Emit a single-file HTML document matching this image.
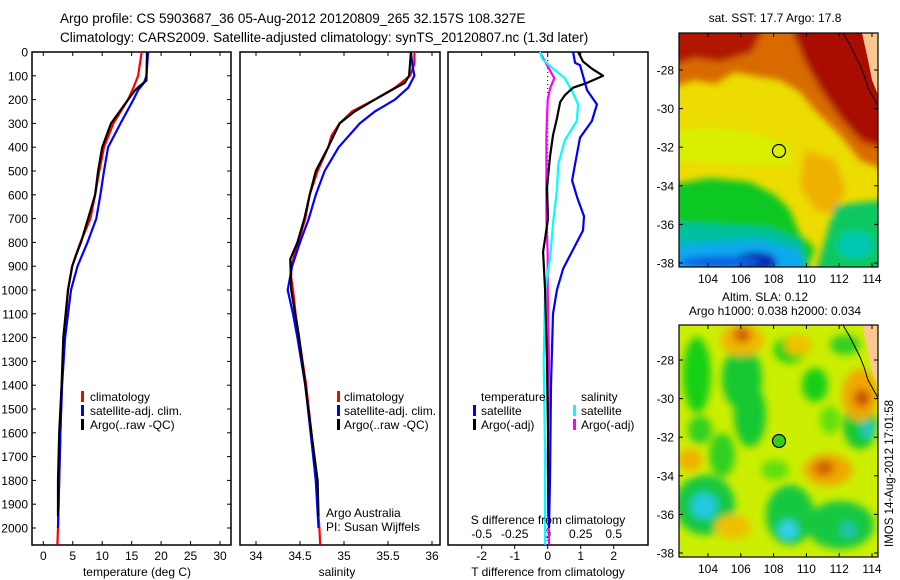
<!DOCTYPE html>
<html><head><meta charset="utf-8"><style>
body{margin:0;background:#fff;}
svg{display:block;font-family:"Liberation Sans",sans-serif;}
</style></head><body>
<svg id="fig" width="900" height="580" viewBox="0 0 900 580">
<defs>
<filter id="blur" x="-20%" y="-20%" width="140%" height="140%"><feGaussianBlur stdDeviation="3.5"/></filter>
<filter id="blur2" x="-50%" y="-50%" width="200%" height="200%"><feGaussianBlur stdDeviation="4"/></filter>
<clipPath id="c1"><rect x="679" y="33" width="199" height="234"/></clipPath>
<clipPath id="c2"><rect x="679" y="325" width="199" height="232"/></clipPath>
</defs>
<g font-size="13.5" fill="#000">
<text x="60" y="23">Argo profile: CS 5903687_36 05-Aug-2012 20120809_265 32.157S 108.327E</text>
<text x="60" y="42">Climatology: CARS2009. Satellite-adjusted climatology: synTS_20120807.nc (1.3d later)</text>
</g>
<g id="frames" fill="none" stroke="#000" stroke-width="1.5">
<rect x="32" y="52" width="199" height="493"/>
<rect x="240" y="52" width="200" height="493"/>
<rect x="448" y="52" width="200" height="493"/>
</g>
<g id="axes" font-size="12"></g>
<g id="series"></g>
<g font-size="12">
<rect x="81" y="391" width="3" height="11" fill="#f00"/>
<text x="90" y="401">climatology</text>
<rect x="81" y="405" width="3" height="11" fill="#00f"/>
<text x="90" y="415">satellite-adj. clim.</text>
<rect x="81" y="419" width="3" height="11" fill="#000"/>
<text x="90" y="429">Argo(..raw -QC)</text>
<rect x="337" y="391" width="3" height="11" fill="#f00"/>
<text x="344" y="401">climatology</text>
<rect x="337" y="405" width="3" height="11" fill="#00f"/>
<text x="344" y="415">satellite-adj. clim.</text>
<rect x="337" y="419" width="3" height="11" fill="#000"/>
<text x="344" y="429">Argo(..raw -QC)</text>
<text x="481" y="401">temperature</text>
<rect x="473" y="405" width="3" height="11" fill="#00f"/>
<text x="481" y="415">satellite</text>
<rect x="473" y="419" width="3" height="11" fill="#000"/>
<text x="481" y="429">Argo(-adj)</text>
<text x="581" y="401">salinity</text>
<rect x="573" y="405" width="3" height="11" fill="#0ff"/>
<text x="581" y="415">satellite</text>
<rect x="573" y="419" width="3" height="11" fill="#f0f"/>
<text x="581" y="429">Argo(-adj)</text>
<text x="326" y="517">Argo Australia</text>
<text x="326" y="531">PI: Susan Wijffels</text>
<text x="548" y="524" text-anchor="middle">S difference from climatology</text>
<text x="137" y="576" text-anchor="middle">temperature (deg C)</text>
<text x="337" y="576" text-anchor="middle">salinity</text>
<text x="548" y="576" text-anchor="middle">T difference from climatology</text>
</g>

<!-- SST map -->
<g clip-path="url(#c1)">
<rect x="679" y="33" width="199" height="234" fill="#ecdc00"/>
<g filter="url(#blur)">
<polygon points="670,25 885,25 885,170 860,160 840,135 815,110 800,92 780,80 755,76 735,72 715,84 695,80 670,88" fill="#d86a00"/>
<polygon points="670,25 765,25 752,52 720,62 695,58 670,66" fill="#b01400"/>
<polygon points="790,25 885,25 885,148 862,142 842,120 822,92 805,62" fill="#a80a00"/>
<polygon points="670,130 720,128 760,135 790,145 790,165 740,165 670,160" fill="#d8f000"/>
<polygon points="805,150 835,160 845,190 835,215 815,210 800,185" fill="#f0b000"/>
<polygon points="670,185 710,178 750,182 775,195 790,210 800,235 815,248 805,275 670,275" fill="#10c820"/>
<polygon points="835,205 885,200 885,275 815,275 825,240" fill="#10c860"/>
<polygon points="670,222 720,225 770,228 800,240 810,275 670,275" fill="#00c0a0"/>
<polygon points="670,245 760,240 800,250 805,275 670,275" fill="#10a8f0"/>
<ellipse cx="755" cy="262" rx="22" ry="10" fill="#0828b0"/>
<ellipse cx="720" cy="262" rx="40" ry="6" fill="#1060e0"/>
<ellipse cx="855" cy="245" rx="18" ry="14" fill="#00c8b0"/>
</g>
<polygon points="862,33 878,33 878,95 872,80 868,60" fill="#f8c890"/>
<polyline points="843,33 850,45 855,55 860,65 864,75 868,88 873,97 878,106" fill="none" stroke="#000" stroke-width="1"/>
<circle cx="779" cy="151" r="6.5" fill="none" stroke="#000" stroke-width="1.2"/>
</g>
<rect x="679" y="33" width="199" height="234" fill="none" stroke="#000" stroke-width="1.2"/>

<!-- SLA map -->
<g clip-path="url(#c2)">
<rect x="679" y="325" width="199" height="232" fill="#ccee00"/>
<g filter="url(#blur2)">
<ellipse cx="697" cy="375" rx="14" ry="38" fill="#18d018"/>
<ellipse cx="742" cy="378" rx="20" ry="32" fill="#18c830"/>
<ellipse cx="790" cy="350" rx="16" ry="13" fill="#18d018"/>
<ellipse cx="815" cy="385" rx="13" ry="17" fill="#18d018"/>
<ellipse cx="750" cy="415" rx="16" ry="32" fill="#18c830"/>
<ellipse cx="860" cy="425" rx="17" ry="24" fill="#18c830"/>
<ellipse cx="705" cy="505" rx="30" ry="30" fill="#18c840"/>
<ellipse cx="790" cy="515" rx="24" ry="30" fill="#18c840"/>
<ellipse cx="840" cy="525" rx="34" ry="24" fill="#18c840"/>
<ellipse cx="722" cy="455" rx="13" ry="22" fill="#30d020"/>
<ellipse cx="845" cy="345" rx="15" ry="10" fill="#30d020"/>
<ellipse cx="700" cy="430" rx="12" ry="14" fill="#30d020"/>
<ellipse cx="775" cy="470" rx="14" ry="10" fill="#60e010"/>
<ellipse cx="830" cy="420" rx="10" ry="14" fill="#60e010"/>
<ellipse cx="742" cy="340" rx="22" ry="16" fill="#f0b800"/>
<ellipse cx="742" cy="335" rx="9" ry="8" fill="#d06000"/>
<ellipse cx="798" cy="345" rx="14" ry="10" fill="#f0c000"/>
<ellipse cx="860" cy="395" rx="18" ry="26" fill="#f0a800"/>
<ellipse cx="862" cy="398" rx="8" ry="9" fill="#c85000"/>
<ellipse cx="828" cy="470" rx="24" ry="16" fill="#f0a800"/>
<ellipse cx="824" cy="468" rx="10" ry="8" fill="#d06000"/>
<ellipse cx="690" cy="460" rx="12" ry="11" fill="#f0b000"/>
<ellipse cx="733" cy="527" rx="18" ry="12" fill="#f0c000"/>
<ellipse cx="704" cy="506" rx="13" ry="13" fill="#20c8e0"/>
<ellipse cx="788" cy="530" rx="10" ry="10" fill="#30d0e8"/>
<ellipse cx="868" cy="430" rx="8" ry="8" fill="#20c8c0"/>
<ellipse cx="848" cy="530" rx="8" ry="8" fill="#20c0b0"/>
</g>
<polygon points="862,325 878,325 878,387 872,372 868,352" fill="#f8c890"/>
<polyline points="843,325 850,337 855,347 860,357 864,367 868,380 873,389 878,398" fill="none" stroke="#000" stroke-width="1"/>
<circle cx="779" cy="441" r="6.5" fill="#30d020" stroke="#000" stroke-width="1.2"/>
</g>
<rect x="679" y="325" width="199" height="232" fill="none" stroke="#000" stroke-width="1.2"/>
<g font-size="12">
<text x="775" y="22" text-anchor="middle">sat. SST: 17.7 Argo: 17.8</text>
<text x="765" y="301" text-anchor="middle">Altim. SLA: 0.12</text>
<text x="775" y="315" text-anchor="middle">Argo h1000: 0.038 h2000: 0.034</text>
<text transform="translate(893,547) rotate(-90)" font-size="11.5">IMOS 14-Aug-2012 17:01:58</text>
</g>
<g id="mapaxes" font-size="12"></g>
</svg>
<script>
// depth grid (dbar)
const depthTicks = [0,100,200,300,400,500,600,700,800,900,1000,1100,1200,1300,1400,1500,1600,1700,1800,1900,2000];
const tTicks = [0,5,10,15,20,25,30];
const sTicks = [34,34.5,35,35.5,36];
const dtTicks = [-2,-1,0,1,2];
const dsTicks = [-0.5,-0.25,0,0.25,0.5];
const dsTickLabels = ["-0.5","-0.25","0","0.25","0.5"];
const lonTicks = [104,106,108,110,112,114];
const latTicks = [-28,-30,-32,-34,-36,-38];

// temperature profiles
const tClimDepth = [0,100,150,200,300,400,500,600,700,800,900,1000,1200,1400,1600,1800,2000,2070];
const tClim = [16.7,16.1,15.3,14.4,11.9,10.3,9.5,8.8,8.0,6.3,4.9,4.2,3.6,3.1,2.9,2.7,2.5,2.4];
const tArgoDepth = [0,120,140,160,200,300,400,500,600,700,800,850,900,1000,1200,1400,1600,1800,1950];
const tArgo = [17.6,17.5,16.5,15.6,14.4,11.5,10.0,9.3,8.8,7.6,6.4,5.6,4.9,4.2,3.4,3.1,2.7,2.5,2.5];
const tSatDepth = [0,100,130,160,200,300,400,500,600,700,800,900,1000,1200,1400,1600,1800,2000];
const tSat = [17.8,17.5,17.1,16.1,15.3,13.1,11.0,10.3,9.7,9.0,7.5,5.8,4.7,3.7,3.2,2.9,2.7,2.5];

// salinity profiles
const sClimDepth = [0,50,100,120,150,200,250,300,350,400,500,600,700,800,900,950,1000,1100,1200,1300,1400,1600,1800,2000,2070];
const sClim = [35.80,35.80,35.75,35.68,35.58,35.35,35.09,34.95,34.86,34.82,34.70,34.61,34.56,34.48,34.40,34.40,34.42,34.45,34.49,34.53,34.57,34.63,34.68,34.72,34.73];
const sArgoDepth = [0,100,130,150,200,250,300,400,500,600,700,800,870,1000,1200,1400,1600,1800,1950];
const sArgo = [35.76,35.74,35.69,35.59,35.35,35.12,34.95,34.82,34.68,34.61,34.55,34.47,34.39,34.40,34.49,34.56,34.63,34.70,34.71];
const sSatDepth = [0,60,100,150,200,250,300,400,500,600,700,800,900,1000,1100,1200,1400,1600,1800,2000];
const sSat = [35.76,35.78,35.80,35.73,35.58,35.35,35.18,34.94,34.78,34.68,34.60,34.50,34.41,34.36,34.42,34.47,34.56,34.62,34.68,34.71];

// differences from climatology
const dtSatDepth = [0,46,55,160,220,290,360,470,540,610,690,750,830,910,1000,1100,1400,1800,2000];
const dtSat = [0.77,0.83,0.98,1.19,1.49,1.34,0.98,0.83,0.74,0.89,1.10,1.07,0.77,0.47,0.28,0.16,0.10,0.07,0.04];
const dtArgoDepth = [0,40,70,100,130,150,180,210,280,350,440,570,700,840,1000,1300,1600,1950];
const dtArgo = [0.92,1.07,1.34,1.68,1.19,0.77,0.53,0.38,0.28,0.16,0.07,-0.02,0.01,-0.14,-0.08,-0.02,0.01,0.02];
const dsSatDepth = [0,30,70,110,170,220,290,370,470,580,720,860,1000,1300,1700,2070];
const dsSat = [-0.06,-0.04,0.04,0.13,0.19,0.23,0.22,0.13,0.08,0.07,0.04,0.02,-0.02,-0.03,-0.02,-0.02];
const dsArgoDepth = [0,60,110,150,200,350,500,700,850,1000,1300,1700,2070];
const dsArgo = [-0.06,0.0,0.05,0.02,0.0,-0.01,-0.01,-0.01,0.0,0.0,0.01,0.0,0.01];

const NS='http://www.w3.org/2000/svg';
const yD = d => 52 + d*0.238;
const xT = t => 43.3 + t*5.89;
const xS = s => 256 + (s-34)*88;
const xDT = v => 547.7 + v*33;
const xDS = v => 547.7 + v*132;
const xLon = l => 708 + (l-104)*16.4;
const yLat = l => 70 + (-28-l)*19.3;

function mk(tag, attrs, parent){
  const e=document.createElementNS(NS,tag);
  for(const k in attrs) e.setAttribute(k,attrs[k]);
  parent.appendChild(e); return e;
}
const axes=document.getElementById('axes');
const series=document.getElementById('series');
const mapaxes=document.getElementById('mapaxes');

depthTicks.forEach(d=>{
  const y=yD(d);
  const t=mk('text',{x:28,y:y+4.5,'text-anchor':'end'},axes);
  t.textContent=d;
  
  
  mk('line',{x1:32,x2:36,y1:y,y2:y,stroke:'#000'},axes);
  mk('line',{x1:227,x2:231,y1:y,y2:y,stroke:'#000'},axes);
});
function xticks(vals, fx, labels, ly){
  vals.forEach((v,i)=>{
    const x=fx(v);
    mk('line',{x1:x,x2:x,y1:52,y2:56,stroke:'#000'},axes);
    mk('line',{x1:x,x2:x,y1:541,y2:545,stroke:'#000'},axes);
    const t=mk('text',{x:x,y:ly,'text-anchor':'middle'},axes);
    t.textContent=labels?labels[i]:v;
    
    
  });
}
xticks(tTicks,xT,null,560);
xticks(sTicks,xS,null,560);
dtTicks.forEach(v=>{
  const x=xDT(v);
  mk('line',{x1:x,x2:x,y1:545,y2:549,stroke:'#000'},axes);
  const t=mk('text',{x:x,y:560,'text-anchor':'middle'},axes);
  t.textContent=v;
  
  
});
dsTicks.forEach((v,i)=>{
  const x=xDS(v);
  mk('line',{x1:x,x2:x,y1:52,y2:56,stroke:'#000'},axes);
  const t=mk('text',{x:x,y:538,'text-anchor':'middle'},axes);
  t.textContent=dsTickLabels[i];
  
  
});
mk('line',{x1:xDT(0),x2:xDT(0),y1:52,y2:545,stroke:'#000','stroke-dasharray':'1,3'},axes);

function line(depths, vals, fx, color, name){
  const pts=depths.map((d,i)=>fx(vals[i]).toFixed(1)+','+yD(d).toFixed(1));
  const p=mk('polyline',{points:pts.join(' '),fill:'none',stroke:color,'stroke-width':2.2,'stroke-linejoin':'round'},series);
  
  
}
line(tClimDepth,tClim,xT,'#f00','temperature-climatology-line');
line(tSatDepth,tSat,xT,'#00f','temperature-satellite-line');
line(tArgoDepth,tArgo,xT,'#000','temperature-argo-line');
line(sClimDepth,sClim,xS,'#f00','salinity-climatology-line');
line(sSatDepth,sSat,xS,'#00f','salinity-satellite-line');
line(sArgoDepth,sArgo,xS,'#000','salinity-argo-line');
line(dsArgoDepth,dsArgo,xDS,'#f0f','s-diff-argo-line');
line(dsSatDepth,dsSat,xDS,'#0ff','s-diff-satellite-line');
line(dtArgoDepth,dtArgo,xDT,'#000','t-diff-argo-line');
line(dtSatDepth,dtSat,xDT,'#00f','t-diff-satellite-line');

[0,290].forEach(off=>{
  lonTicks.forEach(l=>{
    const x=xLon(l);
    mk('line',{x1:x,x2:x,y1:33+(off?292:0),y2:37+(off?292:0),stroke:'#000'},mapaxes);
    mk('line',{x1:x,x2:x,y1:263+off,y2:267+off,stroke:'#000'},mapaxes);
    const t=mk('text',{x:x,y:283+off,'text-anchor':'middle'},mapaxes);
    t.textContent=l;
    
    
  });
  latTicks.forEach(l=>{
    const y=yLat(l)+off;
    mk('line',{x1:679,x2:683,y1:y,y2:y,stroke:'#000'},mapaxes);
    mk('line',{x1:874,x2:878,y1:y,y2:y,stroke:'#000'},mapaxes);
    const t=mk('text',{x:674,y:y+4.5,'text-anchor':'end'},mapaxes);
    t.textContent=l;
    
    
  });
});
</script>
</body></html>
